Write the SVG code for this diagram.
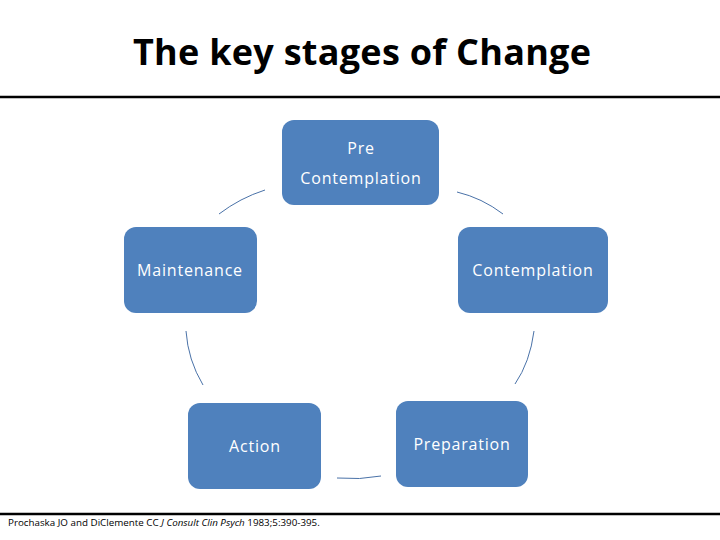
<svg xmlns="http://www.w3.org/2000/svg" width="720" height="540" viewBox="0 0 720 540">
<style>
.node{fill:#4f81bd;}
.lbl{font-family:"Open Sans","Liberation Sans",sans-serif;font-size:16px;letter-spacing:0.8px;fill:#ffffff;text-anchor:middle;}
.conn{fill:none;stroke:#4a72a8;stroke-width:1;}
.title{font-family:"Open Sans","Liberation Sans",sans-serif;font-size:36px;font-weight:bold;fill:#000;text-anchor:middle;}
.cite{font-family:"Open Sans","Liberation Sans",sans-serif;font-size:9.8px;fill:#000;}
</style>
<rect x="0" y="0" width="720" height="540" fill="#ffffff"/>
<text class="title" x="362" y="65" textLength="458" lengthAdjust="spacing">The key stages of Change</text>
<line x1="0" y1="97" x2="720" y2="97" stroke="#000" stroke-width="2.5"/>
<line x1="0" y1="514" x2="720" y2="514" stroke="#000" stroke-width="2.5"/>
<text class="cite" x="8" y="526">Prochaska JO and DiClemente CC  <tspan font-style="italic">J Consult Clin Psych</tspan> 1983;5:390-395.</text>
<g id="connectors">
<path class="conn" d="M219,214 Q240,198 265,190"/>
<path class="conn" d="M457,192 Q482,198 503,214"/>
<path class="conn" d="M534,331 Q530,362 515,384"/>
<path class="conn" d="M381,476 Q360,480 337,478"/>
<path class="conn" d="M203,385 Q188,360 186,331"/>
</g>
<g id="pre-contemplation">
<rect class="node" x="282" y="120" width="157" height="85" rx="12"/>
<text class="lbl" x="361" y="154">Pre</text>
<text class="lbl" x="361" y="184">Contemplation</text>
</g>
<g id="contemplation">
<rect class="node" x="458" y="227" width="150" height="86" rx="12"/>
<text class="lbl" x="533" y="276">Contemplation</text>
</g>
<g id="preparation">
<rect class="node" x="396" y="401" width="132" height="86" rx="12"/>
<text class="lbl" x="462" y="450">Preparation</text>
</g>
<g id="action">
<rect class="node" x="188" y="403" width="133" height="86" rx="12"/>
<text class="lbl" x="255" y="452">Action</text>
</g>
<g id="maintenance">
<rect class="node" x="124" y="227" width="133" height="86" rx="12"/>
<text class="lbl" x="190" y="276">Maintenance</text>
</g>
</svg>
